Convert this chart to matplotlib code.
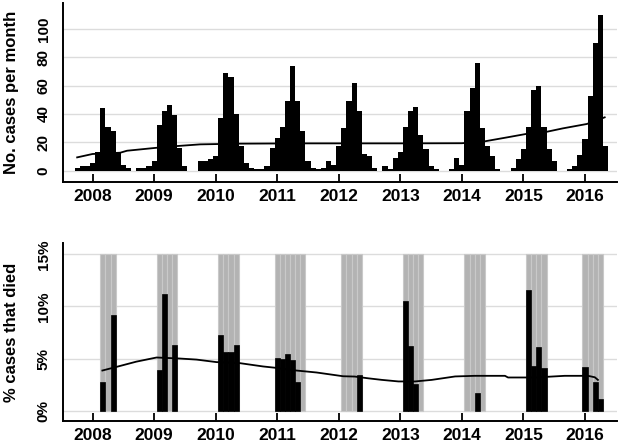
import numpy as np
import matplotlib.pyplot as plt

# monthly case counts, Oct 2007 - May 2016
start_year, start_month = 2007, 10
cases = [
    2, 3, 3, 5, 13, 44, 31, 28, 13, 4, 2, 0,       # Oct07 - Sep08
    2, 2, 3, 7, 32, 42, 46, 39, 16, 3, 0, 0,       # Oct08 - Sep09
    7, 7, 8, 10, 37, 69, 66, 40, 17, 5, 2, 1,      # Oct09 - Sep10
    1, 3, 16, 23, 31, 49, 74, 49, 28, 7, 2, 1,     # Oct10 - Sep11
    2, 7, 4, 17, 30, 49, 62, 42, 12, 10, 2, 0,     # Oct11 - Sep12
    3, 1, 9, 13, 31, 42, 45, 25, 15, 3, 1, 0,      # Oct12 - Sep13
    0, 1, 9, 4, 42, 58, 76, 30, 17, 10, 1, 0,      # Oct13 - Sep14
    0, 2, 8, 15, 31, 57, 60, 31, 15, 7, 0, 0,      # Oct14 - Sep15
    1, 3, 11, 22, 53, 90, 110, 17,                 # Oct15 - May16
]

# smoothed trend of cases
cases_trend_x = [2007.75, 2008.0, 2008.45, 2008.56, 2009.02, 2009.37, 2009.75,
                 2010.4, 2011.37, 2013.0, 2014.0, 2014.34, 2014.73, 2015.1,
                 2015.38, 2015.64, 2016.03, 2016.32]
cases_trend_y = [9.3, 11.7, 12.6, 14.0, 16.0, 17.3, 18.5, 19.0, 19.2, 19.2,
                 19.3, 20.4, 23.4, 26.3, 27.4, 29.8, 32.9, 37.6]

# peak seasons (shaded months)
peak_seasons = [("2008-03", "2008-05"), ("2009-02", "2009-05"),
                ("2010-02", "2010-05"), ("2011-01", "2011-06"),
                ("2012-02", "2012-05"), ("2013-02", "2013-05"),
                ("2014-02", "2014-05"), ("2015-02", "2015-05"),
                ("2016-01", "2016-04")]

# % of cases that died
died_months = ["2008-03", "2008-05", "2009-02", "2009-03", "2009-05",
               "2010-02", "2010-03", "2010-04", "2010-05",
               "2011-01", "2011-02", "2011-03", "2011-04", "2011-05",
               "2012-05", "2013-02", "2013-03", "2013-04", "2014-04",
               "2015-02", "2015-03", "2015-04", "2015-05",
               "2016-01", "2016-03", "2016-04"]
died_pct = [2.7, 9.2, 3.9, 11.2, 6.3,
            7.3, 5.6, 5.6, 6.3,
            5.1, 5.0, 5.4, 4.9, 2.7,
            3.4, 10.5, 6.2, 2.6, 1.7,
            11.6, 4.3, 6.1, 4.1,
            4.2, 2.7, 1.1]

# smoothed trend of % died
died_trend_x = [2008.16, 2008.39, 2008.71, 2009.04, 2009.42, 2009.69, 2010.01,
                2010.39, 2010.77, 2010.99, 2011.31, 2011.64, 2012.07, 2012.26,
                2012.48, 2012.70, 2012.97, 2013.24, 2013.51, 2013.89, 2014.21,
                2014.70, 2014.75, 2015.19, 2015.67, 2016.05, 2016.16, 2016.21]
died_trend_y = [3.85, 4.2, 4.7, 5.1, 5.0, 4.9, 4.66, 4.56, 4.24, 4.1, 3.85,
                3.66, 3.3, 3.27, 3.1, 2.95, 2.8, 2.8, 2.95, 3.28, 3.34, 3.34,
                3.18, 3.18, 3.34, 3.34, 3.2, 2.95]

years = list(range(2008, 2017))


def month_x(label):
    y, m = label.split("-")
    return int(y) + (int(m) - 1) / 12


def month_range(a, b):
    x0, x1 = month_x(a), month_x(b)
    n = int(round((x1 - x0) * 12)) + 1
    return [x0 + k / 12 for k in range(n)]


w = 1 / 12
months_x = start_year + (start_month - 1) / 12 + np.arange(len(cases)) / 12
month_edges = np.append(months_x - w / 2, months_x[-1] + w / 2)
band_x = [x for a, b in peak_seasons for x in month_range(a, b)]
died_x = [month_x(m) for m in died_months]

plt.rcParams['font.family'] = ['Liberation Sans', 'DejaVu Sans']
plt.rcParams['font.weight'] = 'bold'

fig = plt.figure(figsize=(6.21, 4.46), dpi=100)
ax1 = fig.add_axes([63 / 621, 1 - 182 / 446, 554 / 621, 179 / 446])
ax2 = fig.add_axes([63 / 621, 1 - 421 / 446, 554 / 621, 178 / 446])

# top: cases per month (solid histogram, no seams)
ax1.stairs(cases, month_edges, fill=True, color='black', zorder=2)
ax1.plot(cases_trend_x, cases_trend_y, color='black', linewidth=1.3, zorder=3)
ax1.set_ylim(-8.1, 118.4)
ax1.set_yticks([0, 20, 40, 60, 80, 100])
ax1.set_ylabel("No. cases per month", fontsize=12, fontweight='bold')

# bottom: % died
ax2.bar(band_x, [15] * len(band_x), width=w, color='#b3b3b3',
        edgecolor='#c9c9c9', linewidth=0.8, zorder=1)
ax2.bar(died_x, died_pct, width=w, color='black', edgecolor='black',
        linewidth=0.5, zorder=2)
ax2.plot(died_trend_x, died_trend_y, color='black', linewidth=1.3, zorder=3)
ax2.set_ylim(-1.0, 16.1)
ax2.set_yticks([0, 5, 10, 15])
ax2.set_yticklabels(["0%", "5%", "10%", "15%"])
ax2.set_ylabel("% cases that died", fontsize=12, fontweight='bold')

for ax in (ax1, ax2):
    ax.set_xlim(2007.52, 2016.52)
    ax.set_xticks(years)
    ax.set_xticklabels([str(y) for y in years])
    for s in ('top', 'right'):
        ax.spines[s].set_visible(False)
    for s in ('left', 'bottom'):
        ax.spines[s].set_linewidth(1.4)
        ax.spines[s].set_color('black')
    ax.yaxis.grid(True, color='#dcdcdc', linewidth=1.0, zorder=0)
    ax.set_axisbelow(True)
    ax.tick_params(axis='x', direction='in', length=6, width=1.3,
                   pad=5, labelsize=12.5)
    ax.tick_params(axis='y', length=0, pad=9, labelsize=11,
                   labelrotation=90)
    for lbl in ax.get_yticklabels():
        lbl.set_va('center')
    ax.yaxis.set_label_coords(-0.079, 0.5)

plt.savefig("out.png", dpi=100)
